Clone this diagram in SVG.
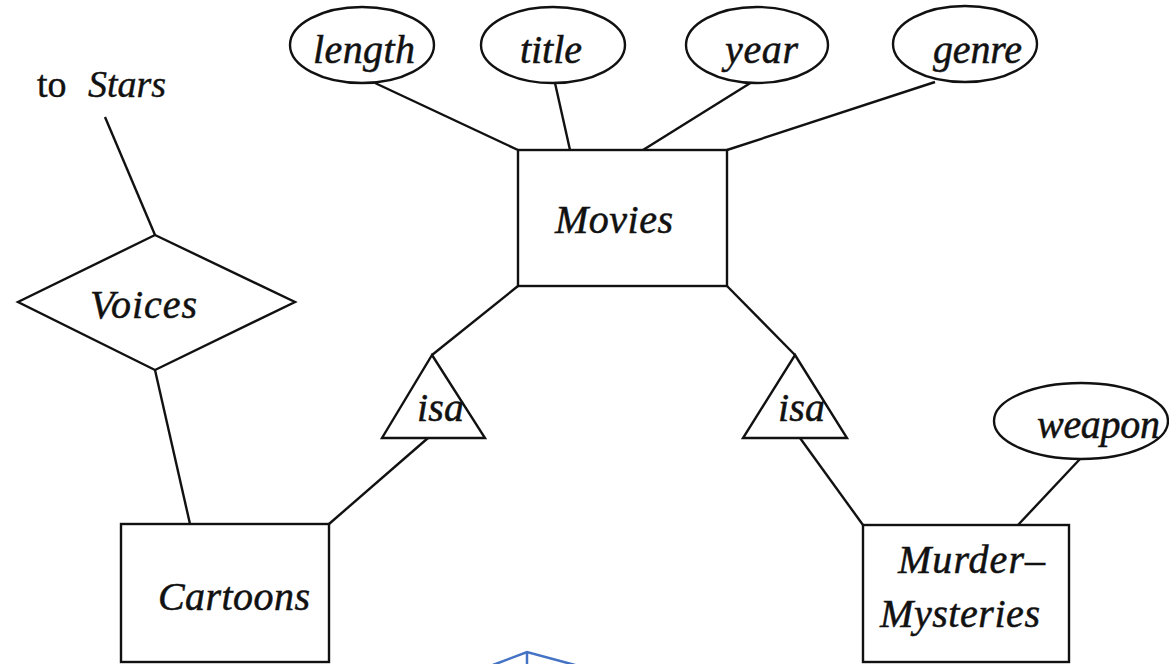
<svg xmlns="http://www.w3.org/2000/svg" width="1169" height="664" viewBox="0 0 1169 664">
  <style>
    .shape { fill: #fff; stroke: #111; stroke-width: 2.4; }
    .link { stroke: #111; stroke-width: 2.4; fill: none; }
    .lbl { font-family: "Liberation Serif", "Times New Roman", serif; font-style: italic; font-size: 40px; fill: #111; stroke: #111; stroke-width: 0.5; }
    .note { font-family: "Liberation Serif", "Times New Roman", serif; font-size: 38px; fill: #111; stroke: #111; stroke-width: 0.4; }
    .blue { stroke: #4472C4; stroke-width: 2.5; fill: none; }
  </style>
  <rect width="1169" height="664" fill="#fff"/>

  <!-- connectors -->
  <g id="connectors">
    <line class="link" x1="375" y1="83" x2="518" y2="150"/>
    <line class="link" x1="555" y1="83" x2="570" y2="150"/>
    <line class="link" x1="752" y1="82" x2="643" y2="150"/>
    <line class="link" x1="935" y1="82" x2="727" y2="150"/>
    <line class="link" x1="518" y1="286" x2="432" y2="355"/>
    <line class="link" x1="727" y1="286" x2="795" y2="355"/>
    <line class="link" x1="428" y1="438" x2="329" y2="524"/>
    <line class="link" x1="800" y1="438" x2="863" y2="525"/>
    <line class="link" x1="1080" y1="459" x2="1018" y2="525"/>
    <line class="link" x1="155" y1="370" x2="190" y2="524"/>
    <line class="link" x1="105" y1="117" x2="155" y2="235"/>
  </g>

  <!-- attributes of Movies -->
  <g id="attr-length">
    <ellipse class="shape" cx="362" cy="45" rx="72" ry="38"/>
    <text class="lbl" x="313" y="63" textLength="102">length</text>
  </g>
  <g id="attr-title">
    <ellipse class="shape" cx="553" cy="45" rx="72" ry="38"/>
    <text class="lbl" x="520" y="63" textLength="62">title</text>
  </g>
  <g id="attr-year">
    <ellipse class="shape" cx="757" cy="45" rx="71" ry="38"/>
    <text class="lbl" x="725" y="63" textLength="73">year</text>
  </g>
  <g id="attr-genre">
    <ellipse class="shape" cx="965" cy="44" rx="72" ry="38"/>
    <text class="lbl" x="933" y="63" textLength="89">genre</text>
  </g>

  <!-- entity Movies -->
  <g id="movies">
    <rect class="shape" x="518" y="150" width="209" height="136"/>
    <text class="lbl" x="555" y="233" textLength="118">Movies</text>
  </g>

  <!-- relationship Voices -->
  <g id="voices">
    <polygon class="shape" points="155,235 295,302 155,370 18,302"/>
    <text class="lbl" x="90" y="318" textLength="107">Voices</text>
  </g>
  <g id="to-stars">
    <text class="note" x="37" y="97">to</text>
    <text class="note" x="88" y="97" font-style="italic">Stars</text>
  </g>

  <!-- isa hierarchies -->
  <g id="isa-cartoons">
    <polygon class="shape" points="432,355 485,438 382,438"/>
    <text class="lbl" x="417" y="421" textLength="47">isa</text>
  </g>
  <g id="isa-murder">
    <polygon class="shape" points="795,355 847,438 743,438"/>
    <text class="lbl" x="778" y="421" textLength="47">isa</text>
  </g>

  <!-- subclass entities -->
  <g id="cartoons">
    <rect class="shape" x="121" y="524" width="208" height="138"/>
    <text class="lbl" x="158" y="610" textLength="152">Cartoons</text>
  </g>
  <g id="murder-mysteries">
    <rect class="shape" x="863" y="525" width="206" height="137"/>
    <text class="lbl" x="898" y="573" textLength="147">Murder–</text>
    <text class="lbl" x="880" y="627" textLength="160">Mysteries</text>
  </g>
  <g id="attr-weapon">
    <ellipse class="shape" cx="1081" cy="421" rx="87" ry="38"/>
    <text class="lbl" x="1037" y="438" textLength="123">weapon</text>
  </g>

  <!-- blue outline at lower edge -->
  <g id="blue-mark">
    <polyline class="blue" points="493,665 527,652 575,665"/>
    <line class="blue" x1="527" y1="652" x2="527" y2="665"/>
  </g>
</svg>
